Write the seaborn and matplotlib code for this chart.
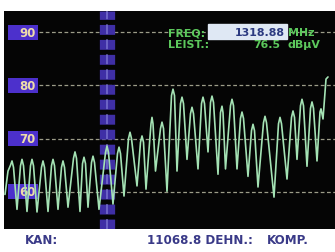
import matplotlib
matplotlib.use("Agg")
import matplotlib.pyplot as plt
import seaborn as sns
import pandas as pd

freq = [5, 8,
        10.5, 12, 13.5, 17, 20.5, 22, 23.5, 27, 30.5, 32, 33.5, 37,
        41.5, 43, 44.5, 48, 51.5, 53, 54.5, 58, 61.5, 63, 64.5, 68,
        73.5, 75, 76.5, 80, 82.5, 84, 85.5, 88, 91.5, 93, 94.5, 99,
        105.5, 107, 108.5, 113, 117.5, 119, 120.5, 124, 128.5, 130, 131.5, 137,
        140.5, 142, 143.5, 146, 151, 152, 153, 155.5, 160.5, 162, 163.5, 167,
        171.5, 173, 174.5, 177, 180.5, 182, 183.5, 187, 190.5, 192, 193.5, 198,
        201.5, 203, 204.5, 208, 210.5, 212, 213.5, 218, 220.5, 222, 223, 225.5,
        230.5, 232, 233.5, 237, 240.5, 242, 243.5, 248, 251.5, 253, 254.5, 258,
        263.5, 265, 266.5, 274, 278.5, 280, 281.5, 287, 291.5, 293, 294.5, 297,
        300.5, 302, 303.5, 307, 310.5, 312, 313.5, 317, 320, 321, 323, 326, 328]
level = [59.5, 63.9,
         65.0, 65.8, 64.6, 56.7, 64.9, 66.1, 64.9, 56.3, 64.9, 66.1, 64.9, 56.2,
         64.6, 65.8, 64.6, 56.3, 64.9, 66.1, 64.9, 56.7, 64.6, 65.8, 64.6, 57.1,
         66.3, 67.5, 66.3, 56.3, 65.3, 66.5, 65.3, 57.1, 65.5, 66.7, 65.5, 56.7,
         67.4, 68.6, 67.4, 57.7, 67.2, 68.4, 67.2, 59.2, 70.0, 71.2, 70.0, 61.1,
         69.3, 70.5, 69.3, 60.5, 72.8, 74.0, 72.8, 63.9, 71.9, 73.1, 71.9, 60.1,
         78.1, 79.3, 78.1, 63.9, 76.6, 77.8, 76.6, 66.1, 74.7, 75.9, 74.7, 64.3,
         76.6, 77.8, 76.6, 67.5, 76.8, 78.0, 76.8, 63.3, 74.9, 76.1, 74.9, 64.3,
         76.2, 77.4, 76.2, 64.3, 73.8, 75.0, 73.8, 62.9, 71.5, 72.7, 71.5, 60.9,
         73.0, 74.2, 73.0, 59.0, 72.8, 74.0, 72.8, 62.4, 74.0, 75.2, 74.0, 66.1,
         76.2, 77.4, 76.2, 64.8, 75.7, 76.9, 75.7, 65.8, 75.0, 75.6, 73.7, 81.2, 81.6]
grid_levels = [90, 80, 70, 60]
tick_labels = ["90", "80", "70", "60"]
marker_freq = 107

W, H = 335, 253
sns.set_style("dark")
plt.rcParams['font.family'] = ['DejaVu Sans']

fig = plt.figure(figsize=(W / 100, H / 100), dpi=100)
fig.patch.set_facecolor("white")

x0, x1, ytop, ybot = 4, 335, 11.5, 230
ax = fig.add_axes([x0 / W, 1 - ybot / H, (x1 - x0) / W, (ybot - ytop) / H])
ax.set_facecolor("#050505")
ax.set_xlim(x0, x1)
ax.set_ylim(53.0, 94.1)
ax.set_xticks([])
ax.set_yticks([])
for s in ax.spines.values():
    s.set_visible(False)

# grid lines
for g in grid_levels:
    ax.axhline(g, xmin=(39 - x0) / (x1 - x0), xmax=1, color="#9c9c88", lw=0.9,
               dashes=(3, 2), zorder=1)

# marker
ax.axvline(marker_freq, color="#3f2fa6", lw=11, dashes=(0.65, 0.33), zorder=2)
ax.axvline(marker_freq, color="#8580d8", lw=1.3, dashes=(5.5, 2.8), zorder=2, alpha=0.7)

# label boxes
for g, t in zip(grid_levels, tick_labels):
    ax.text(36, g, t, ha="right", va="center", color="#eedcaa", fontsize=8.5,
            fontweight="bold", zorder=4)
    ax.add_patch(plt.Rectangle((8, g - 1.4), 30, 2.8, color="#4c30cc", zorder=3, lw=0))

df = pd.DataFrame({"freq": freq, "level": level})
sns.lineplot(data=df, x="freq", y="level", ax=ax, color="#a4e2b4", lw=1.2, zorder=5,
             sort=False)
ax.set_xlabel("")
ax.set_ylabel("")

def px(x, y):
    return x / W, 1 - y / H

green = "#5cc85c"
fs = 7.9
fig.text(*px(168, 36.5), "FREQ:", color=green, fontsize=fs, fontweight="bold", va="baseline")
fig.text(*px(168, 47.5), "LEIST.:", color=green, fontsize=fs, fontweight="bold", va="baseline")
fig.patches.append(plt.Rectangle(px(208, 40), 79 / W, 15 / H, transform=fig.transFigure,
                                 color="#dfe8f4", zorder=3))
fig.text(*px(285, 36.5), "1318.88", color="#2c3a80", fontsize=fs, fontweight="bold",
         va="baseline", ha="right", zorder=4)
fig.text(*px(288, 36.5), "MHz", color=green, fontsize=fs, fontweight="bold", va="baseline")
fig.text(*px(280, 47.5), "76.5", color=green, fontsize=fs, fontweight="bold", va="baseline", ha="right")
fig.text(*px(288, 47.5), "dBµV", color=green, fontsize=fs, fontweight="bold", va="baseline")

navy = "#3a3a88"
fig.text(*px(25, 241), "KAN:", color=navy, fontsize=8.6, fontweight="bold", va="center")
fig.text(*px(253, 241), "11068.8 DEHN.:", color=navy, fontsize=8.6, fontweight="bold",
         va="center", ha="right")
fig.text(*px(267, 241), "KOMP.", color=navy, fontsize=8.6, fontweight="bold", va="center")

fig.savefig("out.png", dpi=100, facecolor="white")
